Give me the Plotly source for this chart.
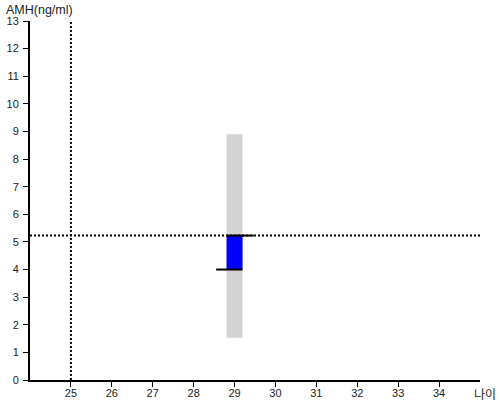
import plotly.graph_objects as go

# data
age = [29]
range_low = [1.53]
range_high = [8.9]
amh_value = [5.23]
median_value = [4.0]
ref_age = 25
x_ticks = [25, 26, 27, 28, 29, 30, 31, 32, 33, 34]
y_ticks = list(range(0, 14))

bar_w = 0.39

fig = go.Figure()
fig.add_trace(go.Bar(x=age, y=[range_high[0] - range_low[0]], base=range_low,
                     width=bar_w, marker=dict(color="#d3d3d3", line=dict(width=0)),
                     hoverinfo="skip"))
fig.add_trace(go.Bar(x=age, y=[amh_value[0] - median_value[0]], base=median_value,
                     width=bar_w, marker=dict(color="#0000ff", line=dict(width=0)),
                     hoverinfo="skip"))
# top line (value) extends right, bottom line (median) extends left
fig.add_trace(go.Scatter(x=[age[0] - bar_w / 2, age[0] + 0.47], y=[amh_value[0]] * 2,
                         mode="lines", line=dict(color="black", width=2), hoverinfo="skip"))
fig.add_trace(go.Scatter(x=[age[0] - 0.45, age[0] + bar_w / 2], y=[median_value[0]] * 2,
                         mode="lines", line=dict(color="black", width=2), hoverinfo="skip"))

fig.add_shape(type="line", xref="paper", yref="y", x0=0, x1=1,
              y0=amh_value[0], y1=amh_value[0],
              line=dict(color="black", width=2, dash="2px,2px"))
fig.add_shape(type="line", xref="x", yref="paper", x0=ref_age, x1=ref_age,
              y0=0, y1=1, line=dict(color="black", width=2, dash="2px,2px"))

fig.update_layout(
    width=500, height=400,
    margin=dict(l=30, r=20, t=21, b=20, autoexpand=False),
    plot_bgcolor="white", paper_bgcolor="white",
    showlegend=False, barmode="overlay",
    font=dict(family="Liberation Sans, Arial, sans-serif", size=11, color="#222"),
    annotations=[
        dict(text="AMH(ng/ml)", xref="paper", yref="paper", x=-0.058, y=1.0,
             xanchor="left", yanchor="bottom", yshift=2, showarrow=False,
             font=dict(size=12.5, color="#222")),
        dict(text="나이", xref="paper", yref="paper", x=1.0, y=0,
             xanchor="left", yanchor="top", xshift=-8, yshift=-3, showarrow=False,
             font=dict(family="Noto Sans CJK KR", size=12, color="#222")),
    ],
)
fig.update_xaxes(range=[24, 35], tickvals=x_ticks, ticks="outside", ticklen=5,
                 tickcolor="black", showline=True, linecolor="black", linewidth=2,
                 showgrid=False, zeroline=False, tickfont=dict(size=11), automargin=False,
                 ticklabelstandoff=-3)
fig.update_yaxes(range=[0, 13], tickvals=y_ticks, ticks="outside", ticklen=5,
                 tickcolor="black", showline=True, linecolor="black", linewidth=2,
                 showgrid=False, zeroline=False, tickfont=dict(size=11), automargin=False,
                 ticklabelstandoff=2)

fig.write_html("out.html", config={"displayModeBar": False},
               post_script="document.body.style.margin='0';document.body.style.overflow='hidden';")
